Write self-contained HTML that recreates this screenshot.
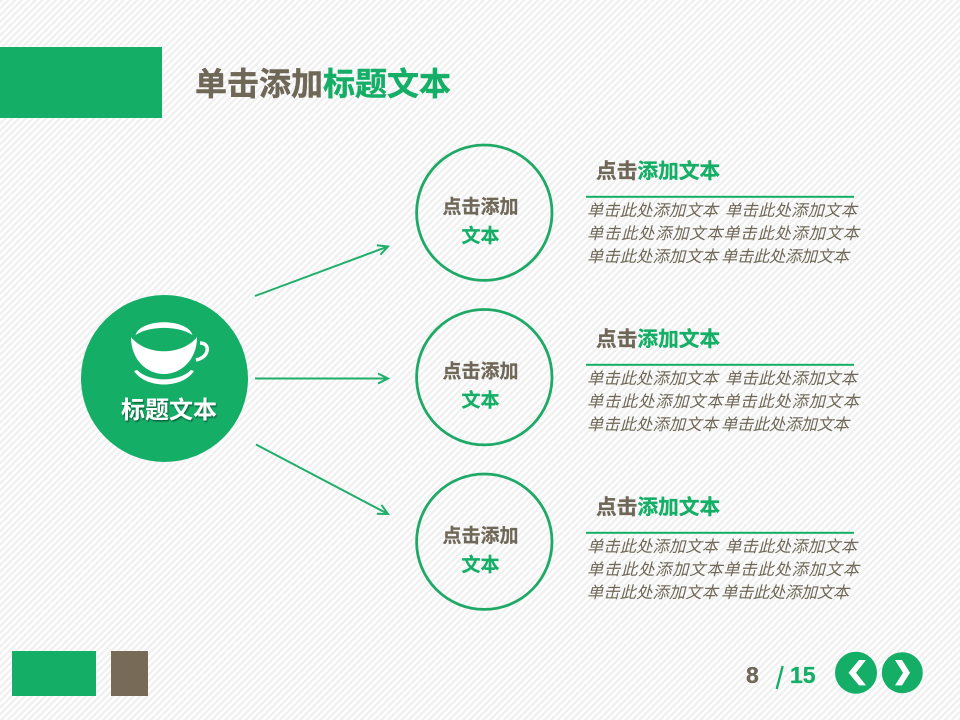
<!DOCTYPE html>
<html lang="zh">
<head>
<meta charset="utf-8">
<title>单击添加标题文本</title>
<style>
html,body{margin:0;padding:0;width:960px;height:720px;overflow:hidden;background:#fff}
svg{display:block}
text{font-family:"Liberation Sans","Noto Sans CJK SC",sans-serif}
.b{font-weight:700}
.h{font-size:20.7px;font-weight:700;fill:#14ae67;stroke:#14ae67;stroke-width:.3px}
.c{font-size:19px;font-weight:700;text-anchor:middle;stroke-width:.25px}
.d{font-size:16.3px;font-style:italic;fill:#6f6757;font-weight:400}
.br{fill:#6f6757;stroke:#6f6757}
.gr{fill:#14ae67;stroke:#14ae67}
</style>
</head>
<body>
<svg width="960" height="720" viewBox="0 0 960 720" xmlns="http://www.w3.org/2000/svg">
<defs>
<pattern id="st" width="4.800" height="4.800" patternUnits="userSpaceOnUse" patternTransform="rotate(45)">
<rect width="4.800" height="4.800" fill="#ffffff"/>
<rect width="2.400" height="4.800" fill="#f0f0f0"/>
</pattern>
<marker id="a" markerWidth="13" markerHeight="13" refX="10.500" refY="6" orient="auto" markerUnits="userSpaceOnUse">
<path d="M0.500 1L10.500 6L0.500 11" fill="none" stroke="#1fae6b" stroke-width="2"/>
</marker>
<filter id="sh" x="-10%" y="-10%" width="120%" height="130%"><feDropShadow dx="1" dy="1.500" stdDeviation="0.800" flood-color="#000" flood-opacity=".45"/></filter>
<g id="blk">
<text class="h" x="596" y="178"><tspan class="br">点击</tspan>添加文本</text>
<rect x="586" y="195.800" width="268" height="2" fill="#14ae67"/>
<text class="d" x="587" y="216" textLength="131">单击此处添加文本</text><text class="d" x="725" y="216" textLength="132">单击此处添加文本</text>
<text class="d" x="587" y="239" textLength="272">单击此处添加文本单击此处添加文本</text>
<text class="d" x="587" y="262" textLength="131">单击此处添加文本</text><text class="d" x="721" y="262" textLength="128">单击此处添加文本</text>
</g>
<g id="cir">
<circle cx="484.300" cy="212.700" r="67.700" fill="none" stroke="#1fa966" stroke-width="2.800"/>
<text class="c br" x="480.500" y="213">点击添加</text>
<text class="c gr" x="480.500" y="242">文本</text>
</g>
</defs>

<rect width="960" height="720" fill="url(#st)"/>

<rect x="0" y="47" width="162" height="71" fill="#14ae67"/>
<text class="b" x="195" y="95" style="font-size:32px;stroke-width:.4px"><tspan class="br">单击添加</tspan><tspan class="gr">标题文本</tspan></text>

<circle cx="164.500" cy="378.500" r="83.500" fill="#14ae67"/>
<path d="M131 337C146 356 182 356 197 337C197 360 181 374 164 374C147 374 131 360 131 337Z" fill="#fff"/>
<path d="M135.500 335C141 318 187 318 192.500 335C178 325.500 150 325.500 135.500 335Z" fill="#fff"/>
<path d="M200 343C206 343 208 347 207 351C206 356 201 359 196 360" fill="none" stroke="#fff" stroke-width="3.500"/>
<path d="M134 371L137 370C150 382.500 178 382.500 191 370L194 371C182 389 146 389 134 371Z" fill="#fff"/>
<text class="b" x="169" y="418" text-anchor="middle" fill="#fff" filter="url(#sh)" style="font-size:24px">标题文本</text>

<line x1="255" y1="296" x2="388" y2="246.500" stroke="#1fae6b" stroke-width="2" marker-end="url(#a)"/>
<line x1="255" y1="378.500" x2="388" y2="378.500" stroke="#1fae6b" stroke-width="2" marker-end="url(#a)"/>
<line x1="256" y1="444.500" x2="388" y2="514" stroke="#1fae6b" stroke-width="2" marker-end="url(#a)"/>

<use href="#cir"/>
<use href="#cir" y="164.500"/>
<use href="#cir" y="329"/>

<use href="#blk"/>
<use href="#blk" y="168"/>
<use href="#blk" y="336"/>

<rect x="12" y="651" width="84" height="45" fill="#14ae67"/>
<rect x="111" y="651" width="37" height="45" fill="#776b58"/>

<text class="b br" x="746" y="683" style="font-size:23px;stroke-width:.3px">8</text>
<line x1="782.700" y1="666" x2="776.700" y2="689" stroke="#14ae67" stroke-width="2.400"/>
<text class="b gr" x="790" y="683" style="font-size:23px;stroke-width:.3px">15</text>

<circle cx="856" cy="672.700" r="21" fill="#14ae67"/>
<path d="M848.500 672.700L859 660H866L856 672.700L866 685.400H859Z" fill="#fff"/>
<circle cx="902.300" cy="672.700" r="20.500" fill="#14ae67"/>
<path d="M910 672.700L902 660H895L903 672.700L895 685.400H902Z" fill="#fff"/>
</svg>
</body>
</html>
